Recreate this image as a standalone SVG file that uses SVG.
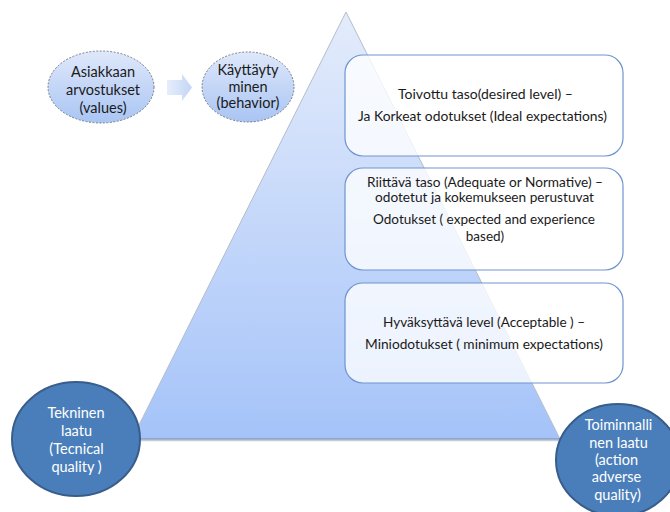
<svg xmlns="http://www.w3.org/2000/svg" width="670" height="512" viewBox="0 0 670 512">
<defs>
<linearGradient id="triG" x1="0" y1="0" x2="0" y2="1">
<stop offset="0" stop-color="#e4ecfb"/>
<stop offset="1" stop-color="#a5c3f9"/>
</linearGradient>
<linearGradient id="ovG" x1="0" y1="0" x2="0" y2="1">
<stop offset="0" stop-color="#dfe8fb"/>
<stop offset="1" stop-color="#a9c5f3"/>
</linearGradient>
<linearGradient id="arG" x1="0" y1="0" x2="1" y2="0">
<stop offset="0" stop-color="#e6eefc"/>
<stop offset="1" stop-color="#c3d5f5"/>
</linearGradient>
</defs>
<style>
.t{font-family:Lato,"Liberation Sans",sans-serif;font-size:13.5px;fill:#1a1a1a;text-anchor:middle}
.ov{fill:url(#ovG);stroke:#5a6270;stroke-width:0.8;stroke-dasharray:2 1.5}
.ot{font-family:Lato,"Liberation Sans",sans-serif;font-size:14.5px;fill:#1a1a1a;text-anchor:middle}
.box{fill:#ffffff;fill-opacity:0.78;stroke:#6e95d0;stroke-width:1.2}
.dc{fill:#4a7ebb;stroke:#385d8a;stroke-width:2}
.wt{font-family:Lato,"Liberation Sans",sans-serif;font-size:14.5px;fill:#ffffff;text-anchor:middle}
</style>
<g id="pyramid">
<polygon points="346,12 132,439 560,439" fill="url(#triG)" stroke="#b4bccb" stroke-width="1"/>
<line x1="132" y1="440.5" x2="560" y2="440.5" stroke="#c8ccd4" stroke-width="1.5"/>
<line x1="132" y1="439" x2="560" y2="439" stroke="#6f8fc0" stroke-width="1"/>
</g>
<g id="values">
<ellipse class="ov" cx="101" cy="87" rx="53" ry="36"/>
<text class="ot" x="103" y="77">Asiakkaan</text>
<text class="ot" x="103" y="95">arvostukset</text>
<text class="ot" x="103" y="113">(values)</text>
</g>
<g id="connectors">
<polygon points="167,80 182,80 182,74 192,87.5 182,101 182,95 167,95" fill="url(#arG)"/>
</g>
<g id="behavior">
<ellipse class="ov" cx="248" cy="87" rx="46" ry="35"/>
<text class="ot" x="248" y="75">Käyttäyty</text>
<text class="ot" x="248" y="91.5">minen</text>
<text class="ot" x="248" y="108">(behavior)</text>
</g>
<g id="desired">
<rect class="box" x="345" y="55" width="278" height="101" rx="18"/>
<text class="t" x="485.5" y="99" textLength="175" lengthAdjust="spacingAndGlyphs">Toivottu taso(desired level) –</text>
<text class="t" x="482.5" y="121" textLength="249" lengthAdjust="spacingAndGlyphs">Ja  Korkeat odotukset (Ideal expectations)</text>
</g>
<g id="adequate">
<rect class="box" x="345" y="168" width="278" height="102" rx="18"/>
<text class="t" x="485" y="187" textLength="236" lengthAdjust="spacingAndGlyphs">Riittävä taso (Adequate or Normative) –</text>
<text class="t" x="484.5" y="202" textLength="219" lengthAdjust="spacingAndGlyphs">odotetut ja kokemukseen perustuvat</text>
<text class="t" x="484" y="224" textLength="222" lengthAdjust="spacingAndGlyphs">Odotukset ( expected and experience</text>
<text class="t" x="485" y="241">based)</text>
</g>
<g id="acceptable">
<rect class="box" x="345" y="283" width="278" height="100" rx="18"/>
<text class="t" x="484" y="327" textLength="202" lengthAdjust="spacingAndGlyphs">Hyväksyttävä level (Acceptable ) –</text>
<text class="t" x="484" y="349" textLength="238" lengthAdjust="spacingAndGlyphs">Miniodotukset ( minimum expectations)</text>
</g>
<g id="technical">
<ellipse class="dc" cx="76" cy="439" rx="64" ry="57"/>
<text class="wt" x="76" y="418">Tekninen</text>
<text class="wt" x="76.5" y="436">laatu</text>
<text class="wt" x="76.5" y="454">(Tecnical</text>
<text class="wt" x="76.5" y="472">quality )</text>
</g>
<g id="functional">
<ellipse class="dc" cx="618" cy="460" rx="62" ry="56"/>
<text class="wt" x="618.5" y="430">Toiminnalli</text>
<text class="wt" x="618.5" y="448">nen laatu</text>
<text class="wt" x="616.5" y="465">(action</text>
<text class="wt" x="616.5" y="482">adverse</text>
<text class="wt" x="617.5" y="500">quality)</text>
</g>
</svg>
